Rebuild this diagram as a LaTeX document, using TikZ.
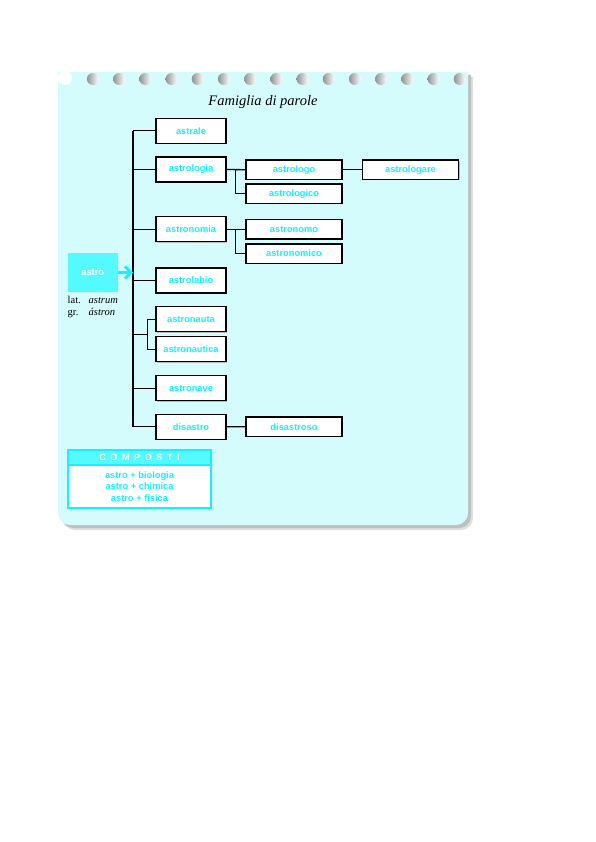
\documentclass[tikz,border=0pt]{standalone}
\usepackage{fontspec}
\setmainfont{Liberation Serif}
\newfontfamily\boxfont{Liberation Sans}
\usetikzlibrary{arrows.meta,shadows}
\definecolor{panelcyan}{RGB}{213,252,252}
\definecolor{wordcyan}{RGB}{20,242,255}
\definecolor{rootcyan}{RGB}{85,250,255}

\begin{document}
\begin{tikzpicture}[x=1pt, y=-1pt,
  every node/.style={inner sep=0pt},
  wordbox/.style={draw=black, line width=1.5pt, fill=white, minimum width=70pt, minimum height=25pt,
    font=\boxfont\bfseries\fontsize{9.3}{11}\selectfont, text=wordcyan,
    drop shadow={shadow xshift=1pt, shadow yshift=-1pt, fill=gray!55, opacity=1}},
  derivbox/.style={wordbox, minimum width=96pt, minimum height=19.5pt},
  link/.style={line width=1.3pt, draw=black},
  >={Straight Barb[length=6pt, width=12pt]}]
\useasboundingbox (0,0) rectangle (596,842);
% panel with shadow
\fill[gray!25] (63,77) -- (473,77) [rounded corners=12pt] -- (473,530) -- (63,530) [sharp corners] -- cycle;
\fill[gray!50] (61,75) -- (471,75) [rounded corners=12pt] -- (471,528) -- (61,528) [sharp corners] -- cycle;
\fill[panelcyan] (58,72) -- (468,72) [rounded corners=12pt] -- (468,525) -- (58,525) [sharp corners] -- cycle;
% ring holes
\fill[white] (65,78) circle[radius=7];
\foreach \hx in {1,...,15}
  \shade[left color=gray!85, right color=white] ({66.7+26.2*\hx},79) circle[radius=6];
\node[font=\itshape\fontsize{14.5}{17}\selectfont] (title) at (263,101.7) {Famiglia di parole};

% root word
\node[fill=rootcyan, minimum width=50pt, minimum height=38.4pt, text=white, font=\boxfont\bfseries\fontsize{9.3}{11}\selectfont] (astro) at (92.7,272.5) {astro};
\node[anchor=base west, font=\fontsize{10.5}{12}\selectfont] (latlab) at (67.5,303.5) {lat.};
\node[anchor=base west, font=\itshape\fontsize{10.5}{12}\selectfont] (latword) at (88.5,303.5) {astrum};
\node[anchor=base west, font=\fontsize{10.5}{12}\selectfont] (grlab) at (67.5,315) {gr.};
\node[anchor=base west, font=\itshape\fontsize{10.5}{12}\selectfont] (grword) at (88.5,315) {ástron};

% first column
\node[wordbox] (astrale) at (191,130.8) {astrale};
\node[wordbox] (astrologia) at (191,169.5) {astrologia};
\node[wordbox] (astronomia) at (191,229.2) {astronomia};
\node[wordbox] (astrolabio) at (191,280.5) {astrolabio};
\node[wordbox] (astronauta) at (191,319.2) {astronauta};
\node[wordbox] (astronautica) at (191,349.2) {astronautica};
\node[wordbox] (astronave) at (191,388.2) {astronave};
\node[wordbox] (disastro) at (191,426.8) {disastro};
% second column
\node[derivbox] (astrologo) at (294,169.7) {astrologo};
\node[derivbox] (astrologare) at (410.5,169.7) {astrologare};
\node[derivbox] (astrologico) at (294,193.7) {astrologico};
\node[derivbox] (astronomo) at (294,229.2) {astronomo};
\node[derivbox] (astronomico) at (294,253.5) {astronomico};
\node[derivbox] (disastroso) at (294,426.7) {disastroso};

% connectors
\coordinate (spinetop) at (133,130.8);
\coordinate (spinebot) at (133,426.8);
\coordinate (nautfork) at (147.3,334.2);
\coordinate (logfork) at (235.7,169.7);
\coordinate (nomfork) at (235.7,229.2);
\draw[link] (spinetop) -- (spinebot);
\foreach \w in {astrale,astrologia,astronomia,astrolabio,astronave,disastro}
  \draw[link] (\w.west) -- (\w.west -| spinetop);
\draw[link] (nautfork -| spinetop) -- (nautfork);
\draw[link] (astronauta.west) -| (nautfork) |- (astronautica.west);
\draw[link] (astrologia.east) -- (astrologo.west);
\draw[link] (logfork) |- (astrologico.west);
\draw[link] (astrologo.east) -- (astrologare.west);
\draw[link] (astronomia.east) -- (astronomo.west);
\draw[link] (nomfork) |- (astronomico.west);
\draw[link] (disastro.east) -- (disastroso.west);
\draw[->, wordcyan, line width=3pt] (astro.east) -- (astro.east -| spinetop);

% compounds
\node[fill=rootcyan, draw=wordcyan, line width=2pt, minimum width=142.4pt, minimum height=15pt, text=white,
  font=\boxfont\bfseries\fontsize{9}{11}\selectfont] (comphead) at (139.5,457.5) {\spaceskip=4.6pt C O M P O S T I};
\node[fill=white, draw=wordcyan, line width=2pt, minimum width=142.4pt, minimum height=42.7pt, align=center, text=wordcyan,
  font=\boxfont\bfseries\fontsize{9.3}{11.4}\selectfont] (compbody) at (139.5,486.3) {astro + biologia\\astro + chimica\\astro + fisica};
\end{tikzpicture}
\end{document}
